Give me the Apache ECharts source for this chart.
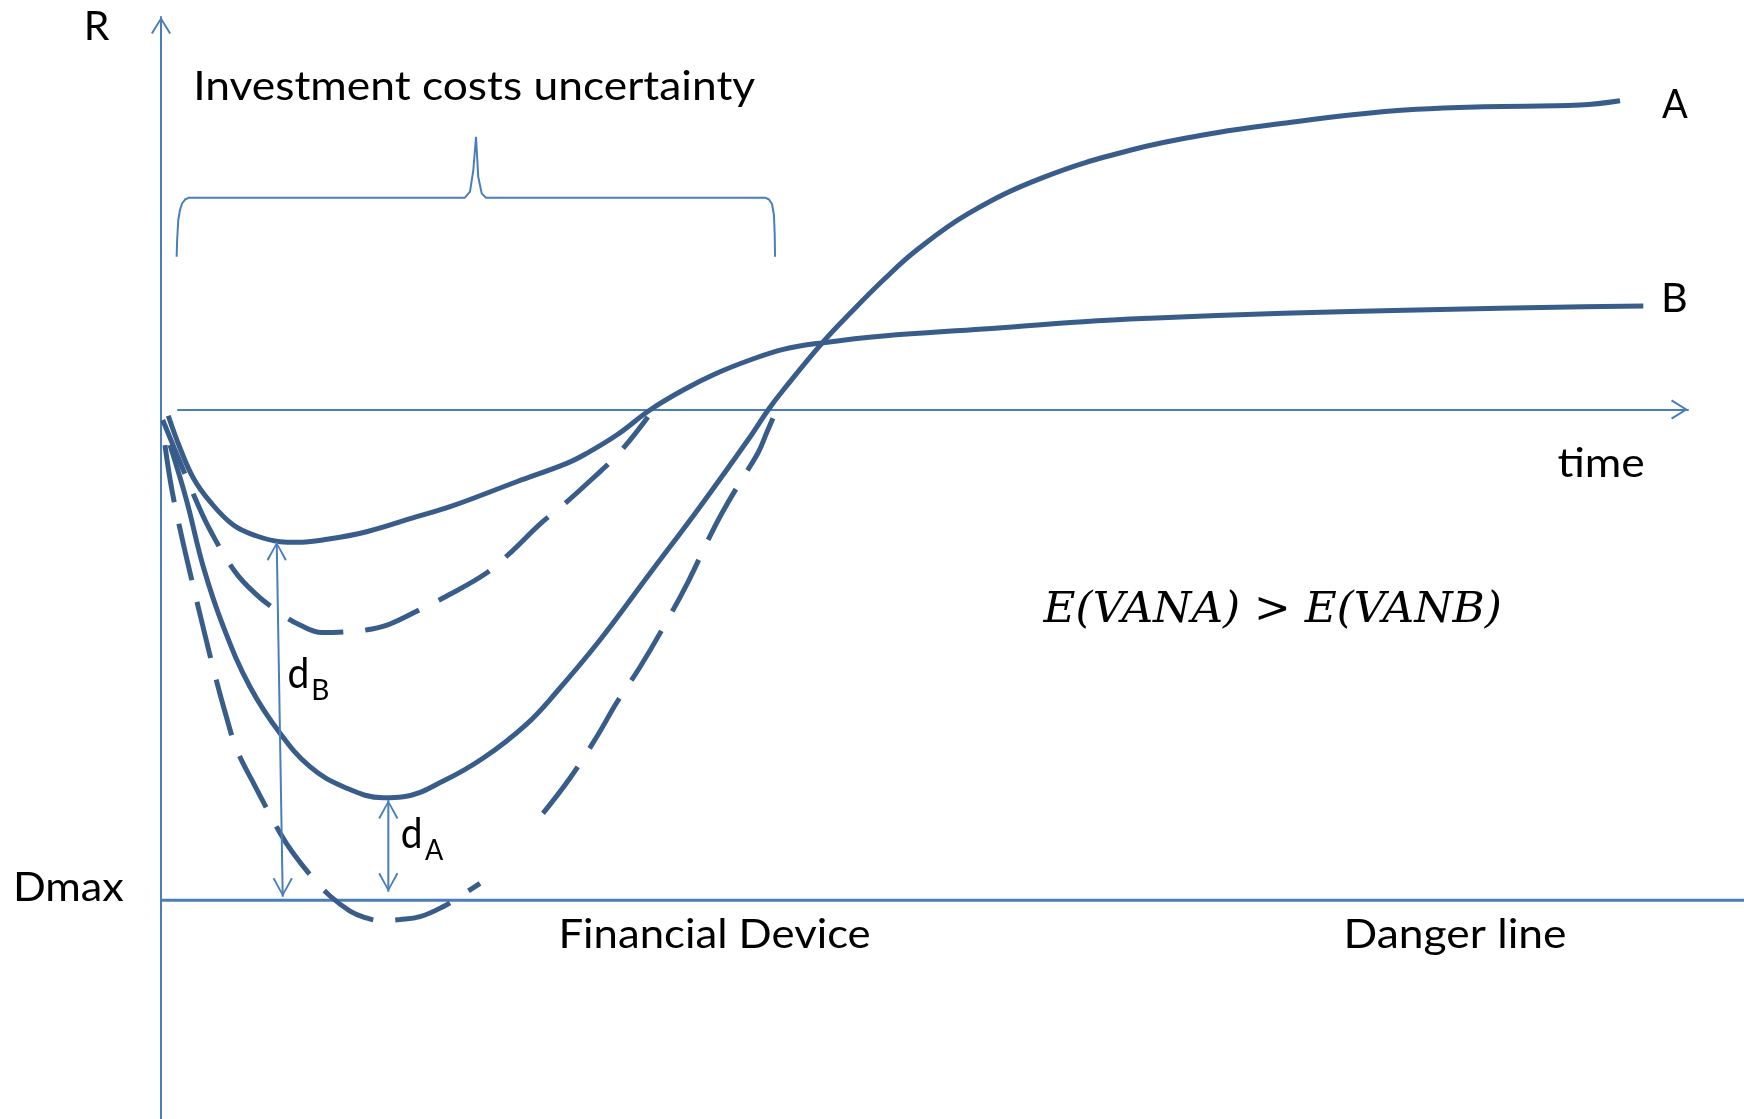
<!DOCTYPE html>
<html>
<head>
<meta charset="utf-8">
<script src="https://cdn.jsdelivr.net/npm/echarts@6/dist/echarts.min.js"></script>
<style>
html,body{margin:0;padding:0;background:#ffffff;}
#chart{width:1744px;height:1119px;}
</style>
</head>
<body>
<div id="chart"></div>
<script>
// ---------------- DATA (schematic units: time 0..100, R with Dmax = -100) ----------------
const xRange = [0, 100];
const yRange = [-144.6, 80];
const dmaxLevel = -100;

// Project B, expected path (solid)
const curveB = [[0.46,-1.26],[1.20,-7.85],[2.04,-13.96],[3.10,-18.79],[4.57,-23.54],[6.05,-25.78],[7.52,-26.94],[8.57,-27.07],[10.47,-26.46],[12.99,-24.91],[16.15,-21.85],[18.26,-19.81],[22.47,-14.72],[25.63,-10.97],[26.89,-8.93],[28.79,-5.20],[30.89,-0.10],[32.99,3.97],[35.10,7.38],[37.21,10.09],[39.31,12.27],[41.84,13.62],[45.63,14.98],[51.95,16.41],[58.26,17.90],[62.48,18.59],[70.90,19.61],[79.32,20.28],[89.85,20.95],[93.64,21.09]];
// Project A, expected path (solid)
const curveA = [[0.57,-7.24],[1.61,-18.45],[2.67,-32.04],[3.94,-44.27],[5.62,-56.50],[7.52,-65.99],[9.41,-72.80],[11.52,-76.88],[14.04,-79.12],[15.31,-78.92],[17.83,-75.72],[20.36,-71.03],[23.10,-64.10],[25.00,-57.52],[27.73,-46.98],[30.89,-33.38],[34.05,-19.81],[37.21,-5.61],[38.35,-0.10],[39.31,3.97],[41.84,13.82],[43.53,19.61],[45.63,26.39],[47.74,32.51],[51.02,39.99],[55.58,47.12],[61.28,52.89],[66.77,56.46],[70.90,58.33],[75.11,60.02],[79.32,61.18],[83.53,61.71],[89.64,62.06],[92.17,62.94]];
// Project B, cost-uncertainty path (dashed)
const dashedB = [[0.11,-2.14],[1.20,-10.70],[2.15,-18.04],[3.10,-24.56],[4.68,-33.06],[5.94,-37.46],[7.52,-41.48],[8.78,-43.92],[10.17,-45.45],[11.94,-45.25],[13.20,-44.80],[14.47,-43.72],[16.79,-40.05],[17.81,-38.42],[20.47,-33.53],[22.05,-29.25],[23.94,-23.34],[25.33,-19.67],[27.23,-14.17],[28.99,-8.66],[30.76,-1.53]];
// Project A, cost-uncertainty path (dashed, with a break)
const dashedA = [[0.25,-7.24],[0.69,-16.41],[1.31,-25.93],[2.02,-35.77],[2.78,-45.96],[3.41,-54.11],[4.04,-61.59],[4.80,-69.40],[5.94,-76.74],[7.52,-86.31],[8.34,-90.39],[9.60,-95.49],[10.68,-99.15],[11.94,-102.21],[12.89,-103.54],[13.83,-104.15],[15.10,-103.94],[16.36,-103.37],[17.81,-101.34],[19.02,-98.95],[20.15,-96.57],null,[24.13,-82.30],[25.84,-75.11],[27.48,-66.95],[28.81,-59.62],[30.26,-52.48],[31.71,-44.53],[33.29,-35.16],[34.56,-26.60],[35.44,-21.09],[36.70,-14.17],[37.71,-8.87],[38.28,-4.59],[38.79,-0.77]];
// Curly brace "Investment costs uncertainty"
const brace = [[0.99,31.14],[1.02,34.55],[1.09,38.62],[1.20,40.66],[1.33,41.99],[1.52,42.80],[1.77,43.17],[19.20,43.17],[19.52,44.39],[19.73,48.81],[19.90,55.60],[20.04,47.45],[20.26,44.06],[20.53,43.17],[38.16,43.17],[38.41,42.80],[38.60,41.88],[38.72,39.64],[38.77,35.57],[38.79,31.14]];
// Distance arrows d_B and d_A (top, bottom)
const arrowDB = [[7.31,-26.94],[7.69,-99.30]];
const arrowDA = [[14.36,-79.59],[14.36,-98.28]];
const dangerLine = [[xRange[0], dmaxLevel],[xRange[1], dmaxLevel]];

// Texts
const axisTexts = ['R', 'time', 'Dmax'];
const curveTexts = ['A', 'B'];
const noteTexts = ['Investment costs uncertainty', 'Financial Device', 'Danger line', 'E(VANA) > E(VANB)'];
const distTexts = [['d','B'], ['d','A']];

// ---------------- STYLE / LAYOUT ----------------
const CURVE = '#385d8a';
const THIN = '#4a7ebb';
const SANS = 'Lato';
const SERIF = '"DejaVu Serif"';
const CHEV_AX = 'path://M10,0L20,15.9L18.3,17L10,3.6L1.7,17L0,15.9Z';
const CHEV_D = 'path://M10,0L20,17.9L18.3,19L10,3.4L1.7,19L0,17.9Z';
const CURVE_W = 5;
const DASH = [58, 22];

const mctx = document.createElement('canvas').getContext('2d');
function fitText(text, fam, size, fstyle, left, right, baseline) {
  const font = fstyle + ' normal ' + size + 'px ' + fam;
  mctx.font = font;
  mctx.textBaseline = 'middle';
  const m = mctx.measureText(text);
  const ink = m.actualBoundingBoxLeft + m.actualBoundingBoxRight;
  const sx = ink > 0 ? (right - left) / ink : 1;
  const off = mctx.measureText('H').actualBoundingBoxDescent;
  return {
    type: 'text', silent: true, z: 100,
    x: left + m.actualBoundingBoxLeft * sx, y: baseline - off, scaleX: sx, scaleY: 1,
    style: { text: text, fontFamily: fam, fontSize: size, fontStyle: fstyle, fill: '#000', align: 'left', verticalAlign: 'middle' }
  };
}

const graphics = [
  fitText(axisTexts[0], SANS, 41, 'normal', 86.7, 109.7, 40),
  fitText(axisTexts[1], SANS, 41, 'normal', 1557.4, 1644, 477),
  fitText(axisTexts[2], SANS, 41, 'normal', 16.1, 123.4, 901.4),
  fitText(curveTexts[0], SANS, 41, 'normal', 1662, 1688, 118.3),
  fitText(curveTexts[1], SANS, 41, 'normal', 1664, 1686.2, 311.7),
  fitText(noteTexts[0], SANS, 41, 'normal', 196.4, 755, 100),
  fitText(noteTexts[1], SANS, 41, 'normal', 561.7, 870, 948.3),
  fitText(noteTexts[2], SANS, 41, 'normal', 1346.7, 1565.8, 948.3),
  fitText(noteTexts[3], SERIF, 43, 'italic', 1042.6, 1500, 621.7),
  fitText(distTexts[0][0], SANS, 43, 'normal', 288.3, 307.3, 688.3),
  fitText(distTexts[0][1], SANS, 28, 'normal', 313.3, 328.3, 700),
  fitText(distTexts[1][0], SANS, 43, 'normal', 401.7, 420.7, 848.3),
  fitText(distTexts[1][1], SANS, 28, 'normal', 425, 443.3, 860)
];

function pts(arr) { return arr.map(p => p ? p : ['-', '-']); }
function arrowItems(arr) {
  return [
    { value: arr[0], symbol: CHEV_D, symbolSize: [20, 19], symbolRotate: 0, symbolOffset: [0, 9.5] },
    { value: arr[1], symbol: CHEV_D, symbolSize: [20, 19], symbolRotate: 180, symbolOffset: [0, -9.5] }
  ];
}
function lineSeries(name, data, color, width, dash, smooth, z) {
  return {
    name: name, type: 'line', xAxisIndex: 0, yAxisIndex: 0, data: data,
    smooth: smooth, showSymbol: false, symbol: 'none', silent: true, z: z,
    color: color, lineStyle: { color: color, width: width, type: dash, cap: 'butt' },
    emphasis: { disabled: true }, connectNulls: false
  };
}

const axisLineCommon = {
  show: true, onZero: false,
  symbol: ['none', CHEV_AX], symbolSize: [20, 17], symbolOffset: [0, -8.5],
  lineStyle: { color: THIN, width: 2 }
};

const option = {
  animation: false,
  backgroundColor: '#ffffff',
  grid: [
    { left: 161, right: 0, top: 17, bottom: 0, containLabel: false, outerBoundsMode: 'none', show: false },
    { left: 178, right: 56, top: 0, height: 409.5, containLabel: false, outerBoundsMode: 'none', show: false }
  ],
  xAxis: [
    { type: 'value', gridIndex: 0, min: xRange[0], max: xRange[1], show: false },
    { type: 'value', gridIndex: 1, min: 0, max: 1, position: 'bottom', axisLine: axisLineCommon,
      axisTick: { show: false }, axisLabel: { show: false }, splitLine: { show: false } }
  ],
  yAxis: [
    { type: 'value', gridIndex: 0, min: yRange[0], max: yRange[1], position: 'left', axisLine: axisLineCommon,
      axisTick: { show: false }, axisLabel: { show: false }, splitLine: { show: false } },
    { type: 'value', gridIndex: 1, min: 0, max: 1, show: false }
  ],
  series: [
    lineSeries('Danger line', dangerLine, THIN, 3, 'solid', false, 2),
    lineSeries('brace', brace, THIN, 2, 'solid', false, 2),
    lineSeries('B', curveB, CURVE, CURVE_W, 'solid', 0.4, 5),
    lineSeries('A', curveA, CURVE, CURVE_W, 'solid', 0.4, 5),
    lineSeries('B dashed', pts(dashedB), CURVE, CURVE_W, DASH, 0.4, 5),
    lineSeries('A dashed', pts(dashedA), CURVE, CURVE_W, DASH, 0.4, 5),
    Object.assign(lineSeries('dB', arrowItems(arrowDB), THIN, 2, 'solid', false, 6), { showSymbol: true, symbol: CHEV_D, itemStyle: { color: THIN, borderWidth: 0 } }),
    Object.assign(lineSeries('dA', arrowItems(arrowDA), THIN, 2, 'solid', false, 6), { showSymbol: true, symbol: CHEV_D, itemStyle: { color: THIN, borderWidth: 0 } })
  ],
  graphic: graphics
};

const chart = echarts.init(document.getElementById('chart'));
chart.setOption(option);
</script>
</body>
</html>
